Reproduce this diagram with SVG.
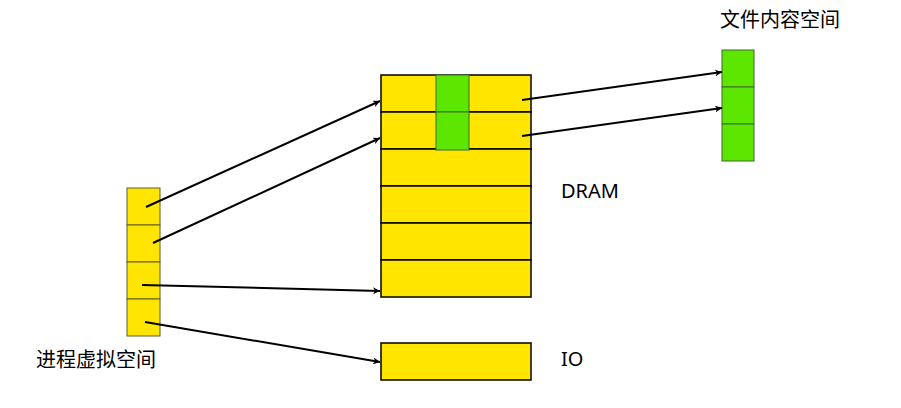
<svg xmlns="http://www.w3.org/2000/svg" width="901" height="408" viewBox="0 0 901 408">
<style>
.y{fill:#ffe500;stroke:#5c5c2a;stroke-width:1}
.d{fill:#ffe500;stroke:#000;stroke-width:1.5}
.g{fill:#5ce600;stroke:#3d6b2a;stroke-width:1}
.c{stroke:#000;stroke-width:2;fill:none;marker-end:url(#a)}
text{font-family:"Noto Sans","Noto Sans CJK SC",sans-serif;font-size:20px;fill:#000}
</style>
<defs><marker id="a" viewBox="0 0 10 10" refX="10" refY="5" markerWidth="7" markerHeight="7" markerUnits="userSpaceOnUse" orient="auto"><path d="M0,0L10,5L0,10L3,5Z" fill="#000"/></marker></defs>
<rect width="901" height="408" fill="#fff"/>
<g id="vspace">
<rect class="y" x="127" y="188" width="33" height="37"/>
<rect class="y" x="127" y="225" width="33" height="37"/>
<rect class="y" x="127" y="262" width="33" height="37"/>
<rect class="y" x="127" y="299" width="33" height="37"/>
<text x="36" y="367">进程虚拟空间</text>
</g>
<g id="dram">
<rect class="d" x="381" y="75" width="150" height="37"/>
<rect class="d" x="381" y="112" width="150" height="37"/>
<rect class="d" x="381" y="149" width="150" height="37"/>
<rect class="d" x="381" y="186" width="150" height="37"/>
<rect class="d" x="381" y="223" width="150" height="37"/>
<rect class="d" x="381" y="260" width="150" height="37"/>
<rect class="g" x="436" y="75" width="33" height="37"/>
<rect class="g" x="436" y="112" width="33" height="38"/>
<text x="561" y="198">DRAM</text>
</g>
<g id="io">
<rect class="d" x="381" y="343" width="150" height="37"/>
<text x="561" y="366">IO</text>
</g>
<g id="file">
<rect class="g" x="722" y="50" width="32" height="37"/>
<rect class="g" x="722" y="87" width="32" height="37"/>
<rect class="g" x="722" y="124" width="32" height="37"/>
<text x="720" y="27">文件内容空间</text>
</g>
<g id="connectors">
<line class="c" x1="146" y1="207" x2="380" y2="101"/>
<line class="c" x1="153" y1="243" x2="380" y2="138"/>
<line class="c" x1="142" y1="285" x2="380" y2="291"/>
<line class="c" x1="145" y1="322" x2="380" y2="362"/>
<line class="c" x1="522" y1="100" x2="722" y2="72"/>
<line class="c" x1="522" y1="136" x2="722" y2="108"/>
</g>
</svg>
